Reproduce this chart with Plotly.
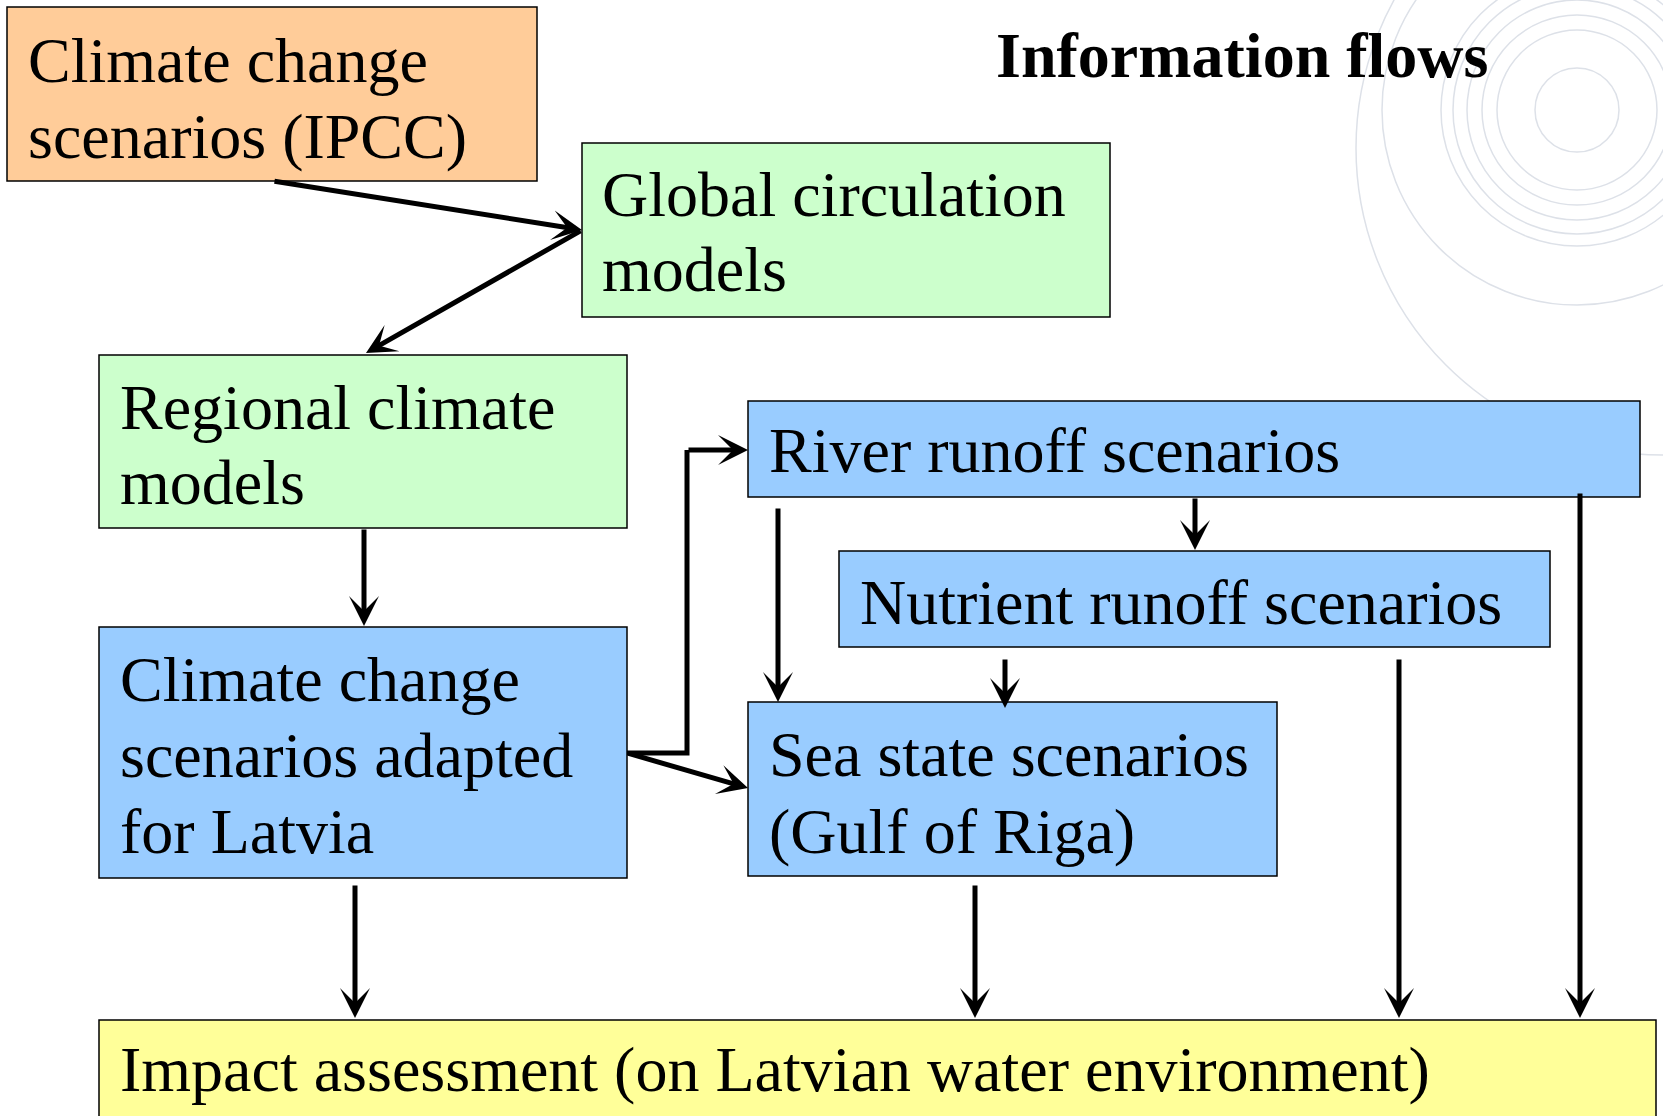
#!/usr/bin/env python3
"""
Information flows diagram (climate scenarios -> impact assessment), Plotly version
"""

import plotly.graph_objects as go

# -------------------------------------------------------
# Diagram content (pixel space of a 1663 x 1116 canvas)
# -------------------------------------------------------
W, H = 1663, 1116

title_text = "Information flows"

box_labels = [
    ["Climate change", "scenarios (IPCC)"],
    ["Global circulation", "models"],
    ["Regional climate", "models"],
    ["Climate change", "scenarios adapted", "for Latvia"],
    ["River runoff scenarios"],
    ["Nutrient runoff scenarios"],
    ["Sea state scenarios", "(Gulf of Riga)"],
    ["Impact assessment (on Latvian water environment)"],
]
box_x0 = [7, 582, 99, 99, 748, 839, 748, 99]
box_x1 = [537, 1110, 627, 627, 1640, 1550, 1277, 1656]
box_y0 = [7, 143, 355, 627, 401, 551, 702, 1020]
box_y1 = [181, 317, 528, 878, 497, 647, 876, 1130]
box_fill = ["#FFCC99", "#CCFFCC", "#CCFFCC", "#99CCFF",
            "#99CCFF", "#99CCFF", "#99CCFF", "#FFFF99"]
# text baselines of each line inside a box
box_baselines = [
    [83, 159],
    [217, 292],
    [430, 505],
    [702, 778, 854],
    [473],
    [625],
    [777, 854],
    [1092],
]
text_pad = [19, 18, 19, 19, 19, 19, 19, 19]

# straight arrows: tail (x, y) -> head (x, y)
arrow_from_x = [273, 582, 364, 627, 778, 1195, 1005, 355, 975, 1399, 1580]
arrow_from_y = [181, 230, 528, 753, 507, 497, 658, 884, 884, 658, 492]
arrow_to_x = [582, 366, 364, 748, 778, 1195, 1005, 355, 975, 1399, 1580]
arrow_to_y = [230, 353, 626, 788, 702, 550, 708, 1018, 1018, 1018, 1018]

# elbow connector (adapted scenarios -> river runoff)
elbow_x = [627, 687, 687, 748]
elbow_y = [753, 753, 450, 450]

# faint decorative rings in the top-right corner
ring_cx = [1577, 1577, 1577, 1577, 1577, 1577, 1577, 1663]
ring_cy = [110, 110, 110, 110, 110, 110, 110, 148]
ring_r = [42, 80, 95, 110, 124, 136, 195, 307]

FONT = "Liberation Serif, Times New Roman, serif"
FS = 64


def main():
    fig = go.Figure()
    shapes = []
    annotations = []

    for cx, cy, r in zip(ring_cx, ring_cy, ring_r):
        shapes.append(dict(
            type="circle", xref="x", yref="y", layer="below",
            x0=cx - r, x1=cx + r, y0=cy - r, y1=cy + r,
            line=dict(color="#dde1e8", width=1.5), fillcolor="rgba(0,0,0,0)",
        ))

    # boxes + text
    for i, lines in enumerate(box_labels):
        shapes.append(dict(
            type="rect", xref="x", yref="y",
            x0=box_x0[i], x1=box_x1[i], y0=box_y0[i], y1=box_y1[i],
            fillcolor=box_fill[i], line=dict(color="black", width=1.5),
        ))
        for line, base in zip(lines, box_baselines[i]):
            annotations.append(dict(
                x=box_x0[i] + text_pad[i], y=base - 23, xref="x", yref="y",
                text=line, showarrow=False, xanchor="left", yanchor="middle",
                font=dict(family=FONT, size=FS, color="black"),
            ))

    # elbow line (last segment drawn as arrow)
    path = "M " + " L ".join(f"{x},{y}" for x, y in zip(elbow_x[:-1], elbow_y[:-1]))
    shapes.append(dict(type="path", xref="x", yref="y", path=path,
                       line=dict(color="black", width=5)))
    arrows = list(zip(arrow_from_x, arrow_from_y, arrow_to_x, arrow_to_y))
    arrows.append((elbow_x[-2], elbow_y[-2], elbow_x[-1], elbow_y[-1]))

    for fx, fy, tx, ty in arrows:
        annotations.append(dict(
            x=tx, y=ty, ax=fx, ay=fy, xref="x", yref="y", axref="x", ayref="y",
            text="", showarrow=True, arrowhead=3, arrowsize=1.0, arrowwidth=5,
            arrowcolor="black", standoff=0, startstandoff=0,
        ))

    annotations.append(dict(
        x=1242, y=55, xref="x", yref="y", text=f"<b>{title_text}</b>",
        showarrow=False, xanchor="center", yanchor="middle",
        font=dict(family=FONT, size=FS, color="black"),
    ))

    fig.update_layout(
        width=W, height=H,
        margin=dict(l=0, r=0, t=0, b=0),
        paper_bgcolor="white", plot_bgcolor="white",
        xaxis=dict(range=[0, W], visible=False, fixedrange=True),
        yaxis=dict(range=[H, 0], visible=False, fixedrange=True),
        shapes=shapes, annotations=annotations,
        showlegend=False,
    )
    # drop the default page margin so the canvas sits at (0, 0)
    fig.write_html("out.html", config={"displayModeBar": False},
                   post_script="document.body.style.margin='0px';")


if __name__ == "__main__":
    main()
